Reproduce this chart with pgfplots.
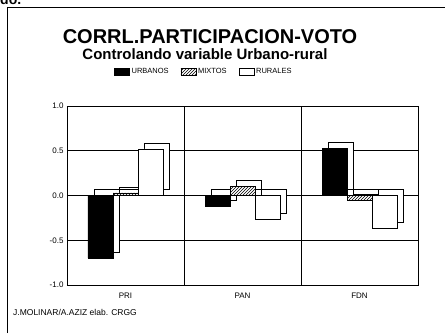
\documentclass[border=0pt]{standalone}
\usepackage{pgfplots}
\pgfplotsset{compat=1.18}
\usepackage{fontspec}
\setmainfont{Liberation Sans}
\usetikzlibrary{patterns}

\begin{document}
\begin{tikzpicture}[x=1pt,y=1pt]
\clip (0,0) rectangle (445,333);
\path (0,0) rectangle (445,333);
% frame of the scanned page
\draw[line width=1pt] (7,0) -- (7,325) -- (445,325);
\node[anchor=base west, font=\bfseries\fontsize{14}{14}\selectfont, inner sep=0pt] at (0,328) {do.};
% titles
\node[font=\bfseries\fontsize{20}{20}\selectfont] at (210,296) {CORRL.PARTICIPACION-VOTO};
\node[font=\bfseries\fontsize{15}{15}\selectfont] at (205,279) {Controlando variable Urbano-rural};
\node[anchor=west, font=\fontsize{8.5}{8.5}\selectfont, inner sep=0pt] at (13,21) {J.MOLINAR/A.AZIZ elab. CRGG};
\begin{axis}[
    at={(67pt,48pt)}, anchor=south west,
    scale only axis,
    width=351pt, height=179pt,
    ybar, bar width=25pt,
    xmin=-0.5, xmax=2.5,
    ymin=-1, ymax=1,
    xtick={0,1,2},
    xticklabels={PRI, PAN, FDN},
    minor xtick={0.5,1.5},
    xminorgrids=true,
    ytick={-1,-0.5,0,0.5,1},
    yticklabels={-1.0,-0.5,0.0,0.5,1.0},
    ymajorgrids=true,
    grid style={black, line width=0.6pt},
    minor grid style={black, line width=0.6pt},
    major tick length=0pt, minor tick length=0pt,
    axis line style={line width=0.8pt},
    tick label style={font=\fontsize{8}{8}\selectfont},
    xticklabel style={yshift=-4pt},
    legend columns=3,
    legend style={at={(0.39,1.19)}, anchor=center, draw=none, fill=none,
        font=\fontsize{7.5}{7.5}\selectfont,
        /tikz/every even column/.append style={column sep=10pt}},
    legend image code/.code={\draw[#1] (0pt,-3.5pt) rectangle (15pt,3.5pt);},
]
% depth copies give the bars their box look
\addplot[draw=black, fill=white, bar shift=-25pt, xshift=6pt, yshift=6pt, forget plot]
    coordinates {(0,-0.70) (1,-0.12) (2,0.53)};
\addplot[draw=black, fill=black, bar shift=-25pt] coordinates {(0,-0.70) (1,-0.12) (2,0.53)};
\addlegendentry{URBANOS}
\addplot[draw=black, fill=white, bar shift=0pt, xshift=6pt, yshift=6pt, forget plot]
    coordinates {(0,0.03) (1,0.10) (2,-0.05)};
\addplot[draw=black, fill=white, postaction={pattern=north east lines}, bar shift=0pt] coordinates {(0,0.03) (1,0.10) (2,-0.05)};
\addlegendentry{MIXTOS}
\addplot[draw=black, fill=white, bar shift=25pt, xshift=6pt, yshift=6pt, forget plot]
    coordinates {(0,0.52) (1,-0.27) (2,-0.36)};
\addplot[draw=black, fill=white, bar shift=25pt] coordinates {(0,0.52) (1,-0.27) (2,-0.36)};
\addlegendentry{RURALES}
\end{axis}
\end{tikzpicture}
\end{document}
